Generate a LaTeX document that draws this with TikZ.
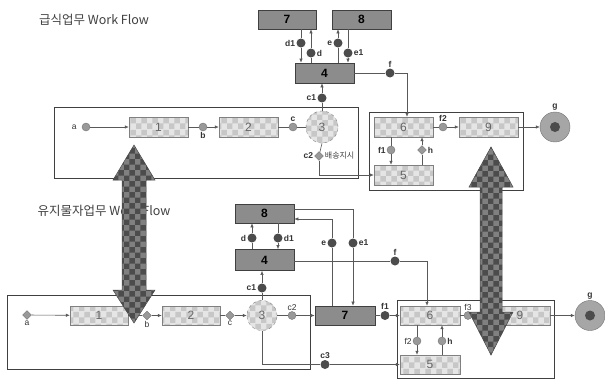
\documentclass[tikz,border=0pt]{standalone}
\usepackage{fontspec}
\setmainfont{Liberation Sans}
\newfontfamily\kr{Noto Sans CJK KR}
\usetikzlibrary{arrows.meta,patterns,shapes.geometric,calc}
\tikzset{
  lbl/.style={font=\fontsize{8.5}{9}\selectfont\bfseries, text=black!80, inner sep=1pt},
  ttl/.style={font=\kr\fontsize{12.5}{13}\selectfont, text=black!75, inner sep=0pt},
  krlbl/.style={font=\kr\fontsize{8}{9}\selectfont, text=black!75, inner sep=1pt},
  darkbox/.style={draw=black!75, fill=black!45, line width=0.7pt, font=\fontsize{12}{13}\selectfont\bfseries, inner sep=0pt},
  chkbox/.style={draw=black!50, preaction={fill=black!10}, pattern=checkerboard, pattern color=black!22, font=\fontsize{12}{13}\selectfont, text=black!60, inner sep=0pt},
  circthree/.style={circle, draw=black!50, dashed, preaction={fill=black!10}, pattern=checkerboard, pattern color=black!22, font=\fontsize{12}{13}\selectfont, text=black!60, inner sep=0pt},
  dot/.style={circle, fill=black!70, inner sep=0pt, minimum size=9pt},
  ldot/.style={circle, fill=black!40, draw=black!55, inner sep=0pt, minimum size=8pt},
  dia/.style={diamond, fill=black!40, draw=black!55, inner sep=0pt, minimum size=9pt},
  gout/.style={circle, fill=black!35, draw=black!55, inner sep=0pt, minimum size=30pt},
  gin/.style={circle, fill=black!70, inner sep=0pt, minimum size=10pt},
  cont/.style={draw=black!75, line width=0.7pt, inner sep=0pt},
  conn/.style={draw=black!65, line width=0.6pt},
  arr/.style={conn, -{Latex[length=4pt,width=3.5pt]}},
  bigarrow/.style={draw=black!70, line width=0.5pt, preaction={fill=black!50}, pattern=checkerboard, pattern color=black!70}
}
\begin{document}
\begin{tikzpicture}[x=1pt,y=-1pt]
\useasboundingbox (0,0) rectangle (605,380);

% ================= TOP =================
\node[ttl] (title1) at (94,20) {급식업무 Work Flow};

\node[cont, minimum width=304, minimum height=71] (TC1) at (206,142.5) {};
\node[cont, minimum width=154, minimum height=78] (TC2) at (446,151) {};

\node[darkbox, minimum width=58, minimum height=19] (T7) at (287,19.5) {7};
\node[darkbox, minimum width=59, minimum height=19] (T8) at (361.5,19.5) {8};
\node[darkbox, minimum width=59, minimum height=20] (T4) at (324.5,73) {4};

\node[ldot, label={[lbl,font=\fontsize{8.5}{9}\selectfont,label distance=4pt]left:a}] (Ta) at (86,127) {};
\node[chkbox, minimum width=59, minimum height=20] (T1) at (158.5,127) {1};
\node[ldot, label={[lbl]below:b}] (Tb) at (203,127) {};
\node[chkbox, minimum width=59, minimum height=20] (T2) at (248.5,127) {2};
\node[ldot, label={[lbl]above:c}] (Tc) at (293,127) {};
\node[circthree, minimum size=32] (T3) at (322,127) {3};
\node[dia, label={[lbl]left:c2}, label={[krlbl]right:배송지시}] (Tc2) at (319,156) {};

\node[chkbox, minimum width=59, minimum height=20] (T6) at (403.5,127) {6};
\node[ldot, label={[lbl]above:f2}] (Tf2) at (443,127) {};
\node[chkbox, minimum width=59, minimum height=20] (T9) at (488.5,127) {9};
\node[gout, label={[lbl]above:g}] (Tg) at (555,127) {};
\node[gin] (Tgi) at (555,127) {};
\node[chkbox, minimum width=59, minimum height=20] (T5) at (403.5,175) {5};
\node[ldot, label={[lbl]left:f1}] (Tf1) at (391,150) {};
\node[dia, label={[lbl]right:h}] (Th) at (422,150) {};

\node[dot, label={[lbl]left:d1}] (Td1) at (301,43) {};
\node[dot, label={[lbl]right:d}] (Td) at (311,53) {};
\node[dot, label={[lbl]left:e}] (Te) at (338,43) {};
\node[dot, label={[lbl]right:e1}] (Te1) at (348,53) {};
\node[dot, label={[lbl]above:f}] (Tf) at (390,73) {};
\coordinate (Tfc) at (407,73);
\node[dot, label={[lbl]left:c1}] (Tc1) at (322,98) {};

\draw[arr] (Td1 |- T7.south) -- (Td1) -- (Td1 |- T4.north);
\draw[arr] (Td |- T4.north) -- (Td) -- (Td |- T7.south);
\draw[arr] (Te |- T4.north) -- (Te) -- (Te |- T8.south);
\draw[arr] (Te1 |- T8.south) -- (Te1) -- (Te1 |- T4.north);
\draw[arr] (T4.east) -- (Tf) -- (Tfc) -- (Tfc |- T6.north);
\draw[arr] (T3.north) -- (Tc1) -- (Tc1 |- T4.south);

\draw[arr] (Ta) -- (T1);
\draw[conn] (T1) -- (Tb);
\draw[arr] (Tb) -- (T2);
\draw[conn] (T2) -- (Tc);
\draw[conn] (Tc) -- (T3);
\draw[conn] (T3.south) -- (Tc2);
\draw[arr] (Tc2) |- (T5.west);
\draw[conn] (T6) -- (Tf2);
\draw[arr] (Tf2) -- (T9);
\draw[arr] (T9) -- (Tg);
\draw[arr] (Tf1 |- T6.south) -- (Tf1) -- (Tf1 |- T5.north);
\draw[arr] (Th |- T5.north) -- (Th) -- (Th |- T6.south);

% ================= BOTTOM =================
\node[ttl] (title2) at (104,211) {유지물자업무 Work Flow};

\node[cont, minimum width=303, minimum height=74] (BC1) at (158.5,332) {};
\node[cont, minimum width=157, minimum height=78] (BC2) at (475.5,339) {};

\node[darkbox, minimum width=59, minimum height=19] (B8) at (264.5,213.5) {8};
\node[darkbox, minimum width=59, minimum height=21] (B4) at (264.5,260) {4};

\node[dia, label={[lbl,font=\fontsize{8.5}{9}\selectfont]below:a}] (Ba) at (27,315) {};
\node[chkbox, minimum width=58, minimum height=19] (B1) at (99,315.5) {1};
\node[dia, label={[lbl,font=\fontsize{8.5}{9}\selectfont]below:b}] (Bb) at (147,315.5) {};
\node[chkbox, minimum width=58, minimum height=19] (B2) at (191,315.5) {2};
\node[dia, label={[lbl,font=\fontsize{8.5}{9}\selectfont]below:c}] (Bc) at (230,315.5) {};
\node[circthree, minimum size=30] (B3) at (262,315.5) {3};
\node[ldot, label={[lbl,font=\fontsize{8.5}{9}\selectfont]above:c2}] (Bc2) at (292,315.5) {};
\node[darkbox, minimum width=60, minimum height=19] (B7) at (345,315.5) {7};
\node[dot, label={[lbl]above:f1}] (Bf1) at (385,315.5) {};
\node[chkbox, minimum width=60, minimum height=19] (B6) at (430,315.5) {6};
\node[ldot, label={[lbl,font=\fontsize{8.5}{9}\selectfont]above:f3}] (Bf3) at (468,315.5) {};
\node[chkbox, minimum width=60, minimum height=19] (B9) at (520,315.5) {9};
\node[gout, label={[lbl]above:g}] (Bg) at (590,315.5) {};
\node[gin] (Bgi) at (590,315.5) {};
\node[chkbox, minimum width=60, minimum height=19] (B5) at (430,364.5) {5};
\node[ldot, label={[lbl,font=\fontsize{8.5}{9}\selectfont]left:f2}] (Bf2) at (417,341) {};
\node[ldot, label={[lbl]right:h}] (Bh) at (442,341) {};
\node[dot, label={[lbl]above:c3}] (Bc3) at (325,364.5) {};

\node[dot, label={[lbl]left:d}] (Bd) at (252,238) {};
\node[dot, label={[lbl]right:d1}] (Bd1) at (278,238) {};
\node[dot, label={[lbl]left:e}] (Be) at (332,243) {};
\coordinate (Bec) at (332,219);
\node[dot, label={[lbl]right:e1}] (Be1) at (353,243) {};
\coordinate (Be1c) at (353,209);
\node[dot, label={[lbl]above:f}] (Bf) at (395,261) {};
\coordinate (Bfc) at (427,261);
\node[dot, label={[lbl]left:c1}] (Bc1) at (262,288) {};

\draw[arr] (Bd |- B4.north) -- (Bd) -- (Bd |- B8.south);
\draw[arr] (Bd1 |- B8.south) -- (Bd1) -- (Bd1 |- B4.north);
\draw[arr] (Be |- B7.north) -- (Be) -- (Bec) -- (Bec -| B8.east);
\draw[arr] (Be1c -| B8.east) -- (Be1c) -- (Be1) -- (Be1 |- B7.north);
\draw[arr] (Bf -| B4.east) -- (Bf) -- (Bfc) -- (Bfc |- B6.north);
\draw[arr] (B3.north) -- (Bc1) -- (Bc1 |- B4.south);

\draw[arr] (Ba) -- (B1);
\draw[conn] (B1) -- (Bb);
\draw[arr] (Bb) -- (B2);
\draw[conn] (B2) -- (Bc);
\draw[arr] (Bc) -- (B3);
\draw[conn] (B3) -- (Bc2);
\draw[arr] (Bc2) -- (B7);
\draw[conn] (B7) -- (Bf1);
\draw[arr] (Bf1) -- (B6);
\draw[conn] (B6) -- (Bf3);
\draw[arr] (Bf3) -- (B9);
\draw[arr] (B9) -- (Bg);
\draw[arr] (Bf2 |- B6.south) -- (Bf2) -- (Bf2 |- B5.north);
\draw[arr] (Bh |- B5.north) -- (Bh) -- (Bh |- B6.south);
\draw[conn] (B3.south) |- (Bc3);
\draw[arr] (Bc3) -- (B5.west);

% ================= BIG DOUBLE ARROWS =================
\draw[bigarrow] (134,145) -- (155,180) -- (146,180) -- (146,290) -- (155,290) -- (134,323)
  -- (113,290) -- (122,290) -- (122,180) -- (113,180) -- cycle;
\draw[bigarrow] (491,147) -- (513,187) -- (502,187) -- (502,312) -- (513,312) -- (491,355)
  -- (469,312) -- (480,312) -- (480,187) -- (469,187) -- cycle;
\end{tikzpicture}
\end{document}
